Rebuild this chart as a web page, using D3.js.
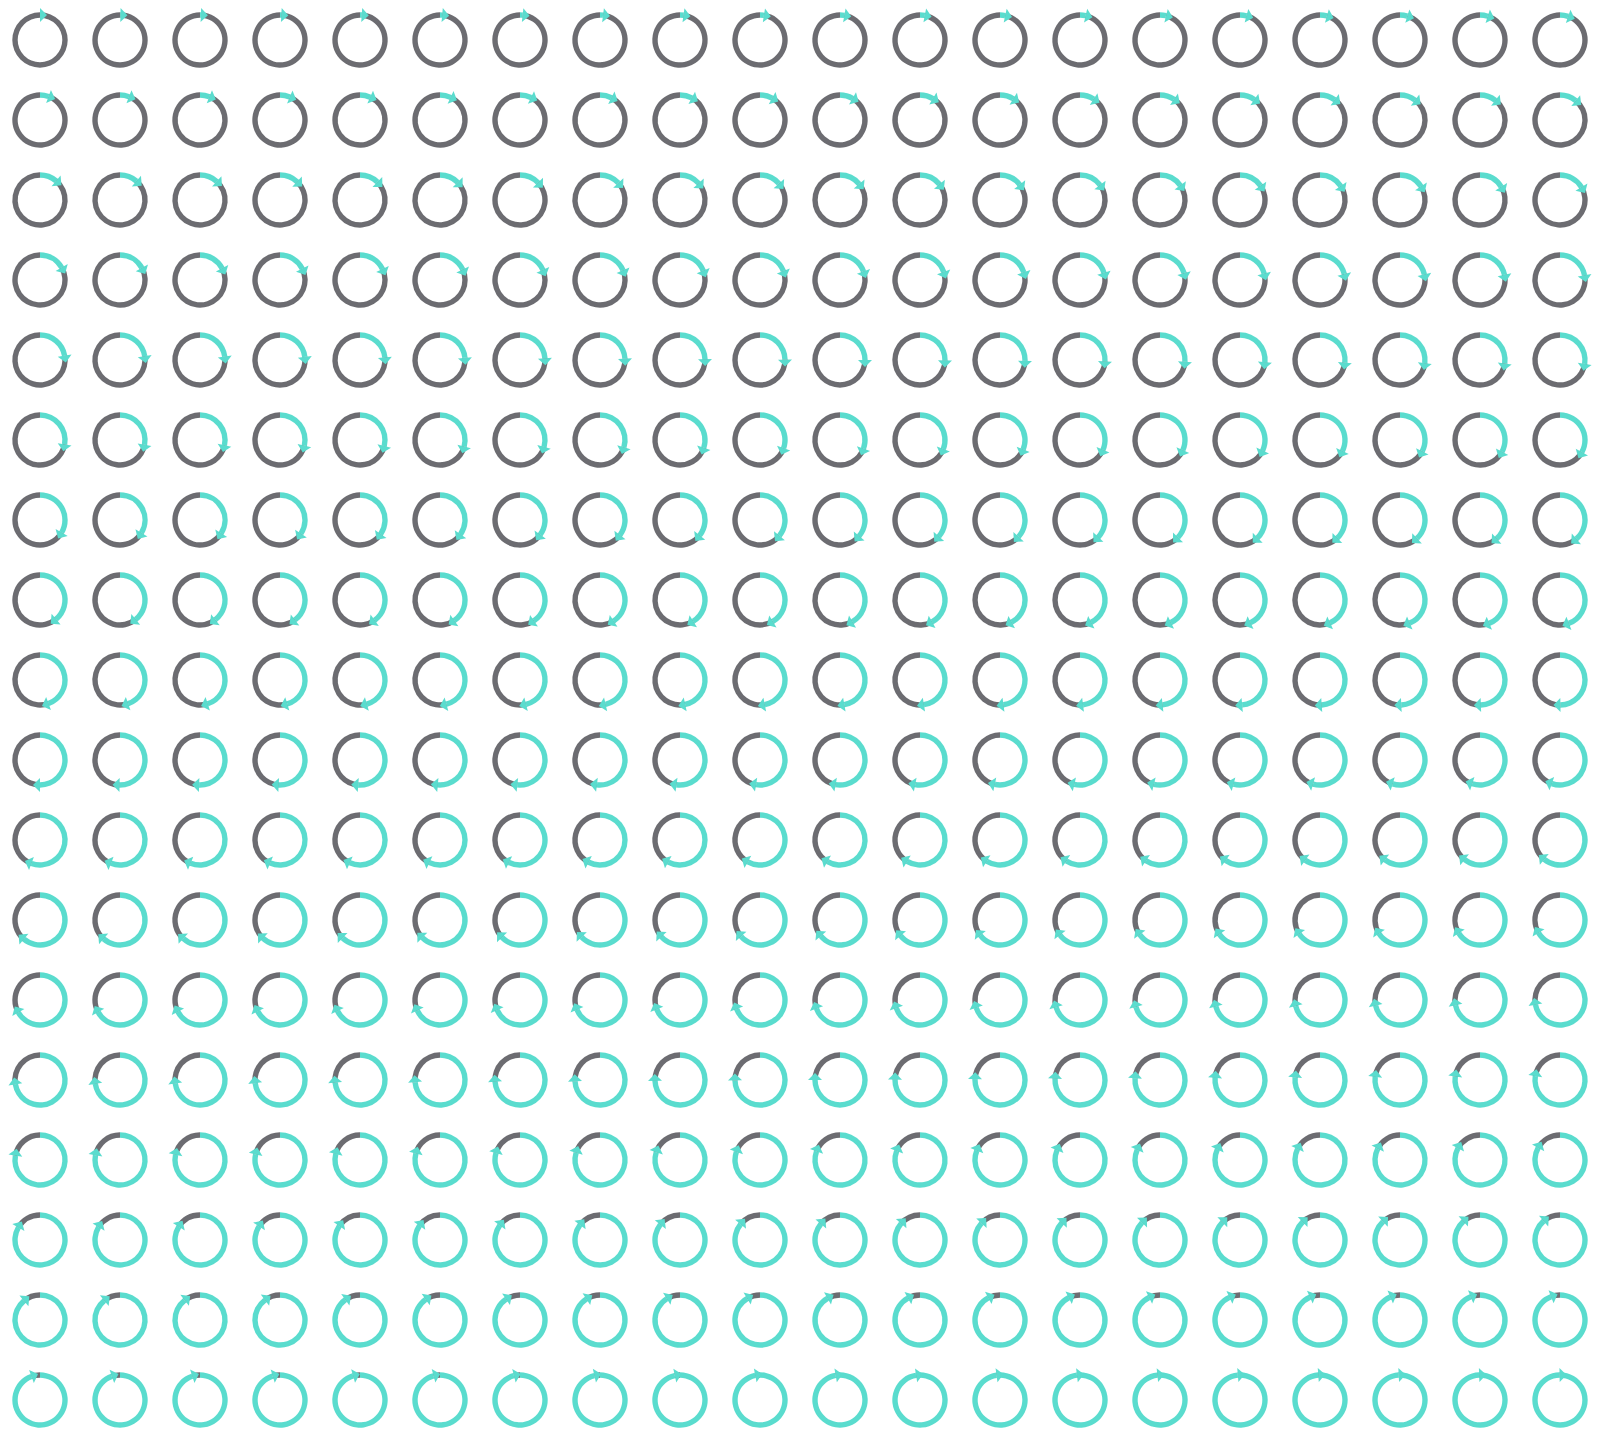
<!DOCTYPE html>
<html>
<head>
<meta charset="utf-8">
<script src="https://cdn.jsdelivr.net/npm/d3@7"></script>
<style>
html,body{margin:0;padding:0;background:#fff;}
svg{display:block;}
</style>
</head>
<body>
<script>
// Progress value (out of 360) shown in each ring, row by row
const rowLabels = d3.range(18);
const colLabels = d3.range(20);
const total = 360;
const progress = [
  0,1,2,3,4,5,6,7,8,9,10,11,12,13,14,15,16,17,18,19,
  20,21,22,23,24,25,26,27,28,29,30,31,32,33,34,35,36,37,38,39,
  40,41,42,43,44,45,46,47,48,49,50,51,52,53,54,55,56,57,58,59,
  60,61,62,63,64,65,66,67,68,69,70,71,72,73,74,75,76,77,78,79,
  80,81,82,83,84,85,86,87,88,89,90,91,92,93,94,95,96,97,98,99,
  100,101,102,103,104,105,106,107,108,109,110,111,112,113,114,115,116,117,118,119,
  120,121,122,123,124,125,126,127,128,129,130,131,132,133,134,135,136,137,138,139,
  140,141,142,143,144,145,146,147,148,149,150,151,152,153,154,155,156,157,158,159,
  160,161,162,163,164,165,166,167,168,169,170,171,172,173,174,175,176,177,178,179,
  180,181,182,183,184,185,186,187,188,189,190,191,192,193,194,195,196,197,198,199,
  200,201,202,203,204,205,206,207,208,209,210,211,212,213,214,215,216,217,218,219,
  220,221,222,223,224,225,226,227,228,229,230,231,232,233,234,235,236,237,238,239,
  240,241,242,243,244,245,246,247,248,249,250,251,252,253,254,255,256,257,258,259,
  260,261,262,263,264,265,266,267,268,269,270,271,272,273,274,275,276,277,278,279,
  280,281,282,283,284,285,286,287,288,289,290,291,292,293,294,295,296,297,298,299,
  300,301,302,303,304,305,306,307,308,309,310,311,312,313,314,315,316,317,318,319,
  320,321,322,323,324,325,326,327,328,329,330,331,332,333,334,335,336,337,338,339,
  340,341,342,343,344,345,346,347,348,349,350,351,352,353,354,355,356,357,358,359
];

const W = 1600, H = 1440;
const grey = "#6c6c71", teal = "#5adcce";
const R = 25, SW = 5.4;
const headHalf = 7, headLen = 7;

const svg = d3.select("body").append("svg").attr("width", W).attr("height", H);

const x = d3.scalePoint().domain(colLabels).range([40, 1560]);
const y = d3.scalePoint().domain(rowLabels).range([40, 1400]);
const angle = d3.scaleLinear().domain([0, total]).range([0, 2 * Math.PI]);

const data = progress.map((v, i) => ({v, row: Math.floor(i / colLabels.length), col: i % colLabels.length}));

const ringArc = d3.arc().innerRadius(R - SW / 2).outerRadius(R + SW / 2);

const g = svg.selectAll("g.cell").data(data).join("g")
  .attr("class", "cell")
  .attr("transform", d => `translate(${x(d.col)},${y(d.row)})`);

g.append("path").attr("fill", grey)
  .attr("d", d => ringArc({startAngle: angle(d.v), endAngle: 2 * Math.PI}));

g.append("path").attr("fill", teal)
  .attr("d", d => ringArc({startAngle: 0, endAngle: angle(d.v)}));

g.append("path").attr("fill", teal)
  .attr("d", d => {
    const a = angle(d.v);
    const ux = Math.sin(a), uy = -Math.cos(a);   // radial
    const tx = Math.cos(a), ty = Math.sin(a);    // clockwise tangent
    const p1 = [(R - headHalf) * ux, (R - headHalf) * uy];
    const p2 = [(R + headHalf) * ux, (R + headHalf) * uy];
    const p3 = [R * ux + headLen * tx, R * uy + headLen * ty];
    return d3.line()([p1, p2, p3]) + "Z";
  });
</script>
</body>
</html>
